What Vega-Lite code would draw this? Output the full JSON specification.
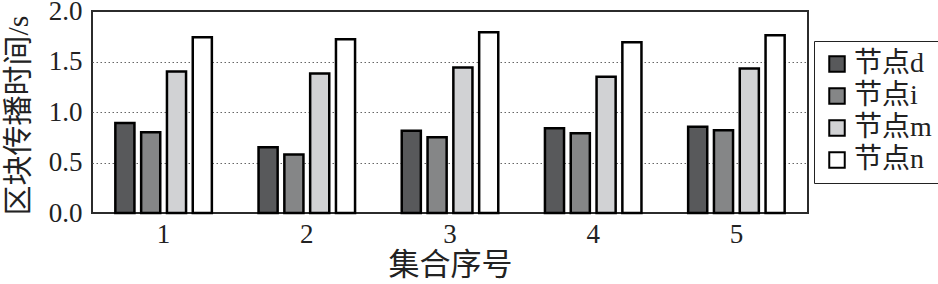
{
  "$schema": "https://vega.github.io/schema/vega-lite/v6.json",
  "width": 716,
  "height": 202,
  "autosize": {"type": "none"},
  "padding": {"left": 92, "top": 11, "right": 130, "bottom": 71},
  "background": "white",
  "config": {
    "font": "Liberation Serif, Noto Sans CJK SC",
    "view": {"stroke": "#2b2b2b", "strokeWidth": 2},
    "axis": {"labelFont": "Liberation Serif, Noto Sans CJK SC", "titleFont": "Liberation Serif, Noto Sans CJK SC", "labelColor": "#222", "titleColor": "#222", "titleFontWeight": "normal"}
  },
  "data": {
    "values": [
      {"set": "1", "node": "节点d", "t": 0.89},
      {"set": "1", "node": "节点i", "t": 0.80},
      {"set": "1", "node": "节点m", "t": 1.40},
      {"set": "1", "node": "节点n", "t": 1.74},
      {"set": "2", "node": "节点d", "t": 0.65},
      {"set": "2", "node": "节点i", "t": 0.58},
      {"set": "2", "node": "节点m", "t": 1.38},
      {"set": "2", "node": "节点n", "t": 1.72},
      {"set": "3", "node": "节点d", "t": 0.815},
      {"set": "3", "node": "节点i", "t": 0.75},
      {"set": "3", "node": "节点m", "t": 1.44},
      {"set": "3", "node": "节点n", "t": 1.79},
      {"set": "4", "node": "节点d", "t": 0.84},
      {"set": "4", "node": "节点i", "t": 0.79},
      {"set": "4", "node": "节点m", "t": 1.35},
      {"set": "4", "node": "节点n", "t": 1.69},
      {"set": "5", "node": "节点d", "t": 0.855},
      {"set": "5", "node": "节点i", "t": 0.82},
      {"set": "5", "node": "节点m", "t": 1.43},
      {"set": "5", "node": "节点n", "t": 1.76}
    ]
  },
  "mark": {"type": "bar", "stroke": "#000", "strokeWidth": 2.5},
  "encoding": {
    "x": {
      "field": "set", "type": "nominal",
      "scale": {"paddingInner": 0.326, "paddingOuter": 0.163},
      "axis": {"title": "集合序号", "labelAngle": 0, "ticks": false, "domain": false, "labelFontSize": 27, "labelPadding": 8, "titleFontSize": 31, "titleY": 52, "titleBaseline": "middle"}
    },
    "xOffset": {"field": "node", "type": "nominal", "scale": {"paddingInner": 0.26, "paddingOuter": 0}},
    "y": {
      "field": "t", "type": "quantitative",
      "scale": {"domain": [0, 2], "nice": false},
      "axis": {
        "title": "区块传播时间/s", "values": [0, 0.5, 1, 1.5, 2], "format": ".1f",
        "ticks": false, "domain": false, "labelFontSize": 27, "labelPadding": 10,
        "grid": true, "gridDash": [1.5, 2.5], "gridColor": "#666", "gridWidth": 1,
        "gridOpacity": {"condition": {"test": "datum.value == 0 || datum.value == 2", "value": 0}, "value": 1},
        "titleFontSize": 30, "titleX": -74, "titleY": 104, "titleBaseline": "middle"
      }
    },
    "fill": {
      "field": "node", "type": "nominal",
      "scale": {"domain": ["节点d", "节点i", "节点m", "节点n"], "range": ["#58595b", "#858687", "#d1d2d4", "#ffffff"]},
      "legend": {
        "title": null, "orient": "none", "legendX": 722, "legendY": 30,
        "strokeColor": "#222", "padding": 9,
        "labelFontSize": 28, "labelFont": "Liberation Serif, Noto Sans CJK SC", "labelColor": "#222",
        "symbolType": "square", "symbolSize": 240, "symbolStrokeColor": "#000", "symbolStrokeWidth": 2,
        "rowPadding": 4, "labelOffset": 3, "fillColor": "white"
      }
    }
  }
}
